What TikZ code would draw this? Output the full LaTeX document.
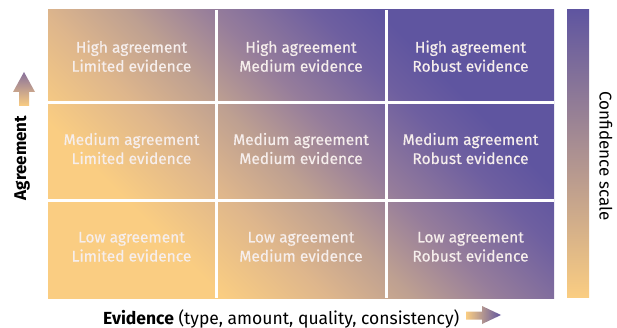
\documentclass[tikz,border=0pt]{standalone}
\usepackage{fontspec}
\setmainfont{Fira Sans}
\newfontfamily\cellfont[FakeBold=0.45]{Fira Sans}
\definecolor{cyel}{RGB}{250,205,130}
\definecolor{cga}{RGB}{222,182,140}
\definecolor{cgb}{RGB}{190,160,145}
\definecolor{cgc}{RGB}{150,125,155}
\definecolor{cgd}{RGB}{110,95,160}
\definecolor{cpur}{RGB}{95,85,160}
\definecolor{ctext}{RGB}{246,238,236}
\definecolor{carrowtop}{RGB}{135,112,155}
\pgfdeclarehorizontalshading{gridshade}{100bp}{color(0bp)=(cyel); color(25bp)=(cyel); color(36bp)=(cyel); color(42.7bp)=(cga); color(48bp)=(cgb); color(53.4bp)=(cgc); color(60bp)=(cgd); color(64bp)=(cpur); color(100bp)=(cpur)}
\begin{document}
\begin{tikzpicture}[x=1pt,y=-1pt,
  celltext/.style={text=ctext, align=center, font=\cellfont\fontsize{15.5}{19}\selectfont, inner sep=0pt, anchor=base},
  gridline/.style={white, line width=3pt},
  axislabel/.style={text=black, font=\fontsize{17}{20}\selectfont, inner sep=0pt}]
\useasboundingbox (0,0) rectangle (617,328);
\begin{scope}
  \clip (48,10) rectangle (554,298);
  \shade[shading=gridshade, shading angle=45] (20.25,-126.75) rectangle (581.75,434.75);
\end{scope}
\draw[gridline] (216,10) -- (216,298);
\draw[gridline] (386,10) -- (386,298);
\draw[gridline] (48,103) -- (554,103);
\draw[gridline] (48,201) -- (554,201);
% cells
\node[celltext] (hl) at (131.5,71.7) {High agreement\\Limited evidence};
\node[celltext] (hm) at (301,71.7) {High agreement\\Medium evidence};
\node[celltext] (hr) at (470.5,71.7) {High agreement\\Robust evidence};
\node[celltext] (ml) at (131.5,164) {Medium agreement\\Limited evidence};
\node[celltext] (mm) at (301,164) {Medium agreement\\Medium evidence};
\node[celltext] (mr) at (470.5,164) {Medium agreement\\Robust evidence};
\node[celltext] (ll) at (131.5,261.5) {Low agreement\\Limited evidence};
\node[celltext] (lm) at (301,261.5) {Low agreement\\Medium evidence};
\node[celltext] (lr) at (470.5,261.5) {Low agreement\\Robust evidence};
% confidence bar
\shade[top color=cpur, bottom color=cyel] (567,10) rectangle (589,297);
\node[axislabel, rotate=-90] (conf) at (606,156) {Confidence scale};
% agreement axis
\node[axislabel, rotate=90] (agr) at (22,158) {\textbf{Agreement}};
\shade[bottom color=cyel, top color=carrowtop] (19,106) -- (19,92) -- (13,92) -- (24,72) -- (35,92) -- (29,92) -- (29,106) -- cycle;
% evidence axis
\node[axislabel, anchor=base west, font=\fontsize{17.5}{20}\selectfont] (evid) at (103,324) {\textbf{Evidence} (type, amount, quality, consistency)};
\shade[left color=cyel, right color=cpur] (466,311.5) -- (482,311.5) -- (482,306) -- (501,315) -- (482,324) -- (482,319.5) -- (466,319.5) -- cycle;
\end{tikzpicture}
\end{document}
